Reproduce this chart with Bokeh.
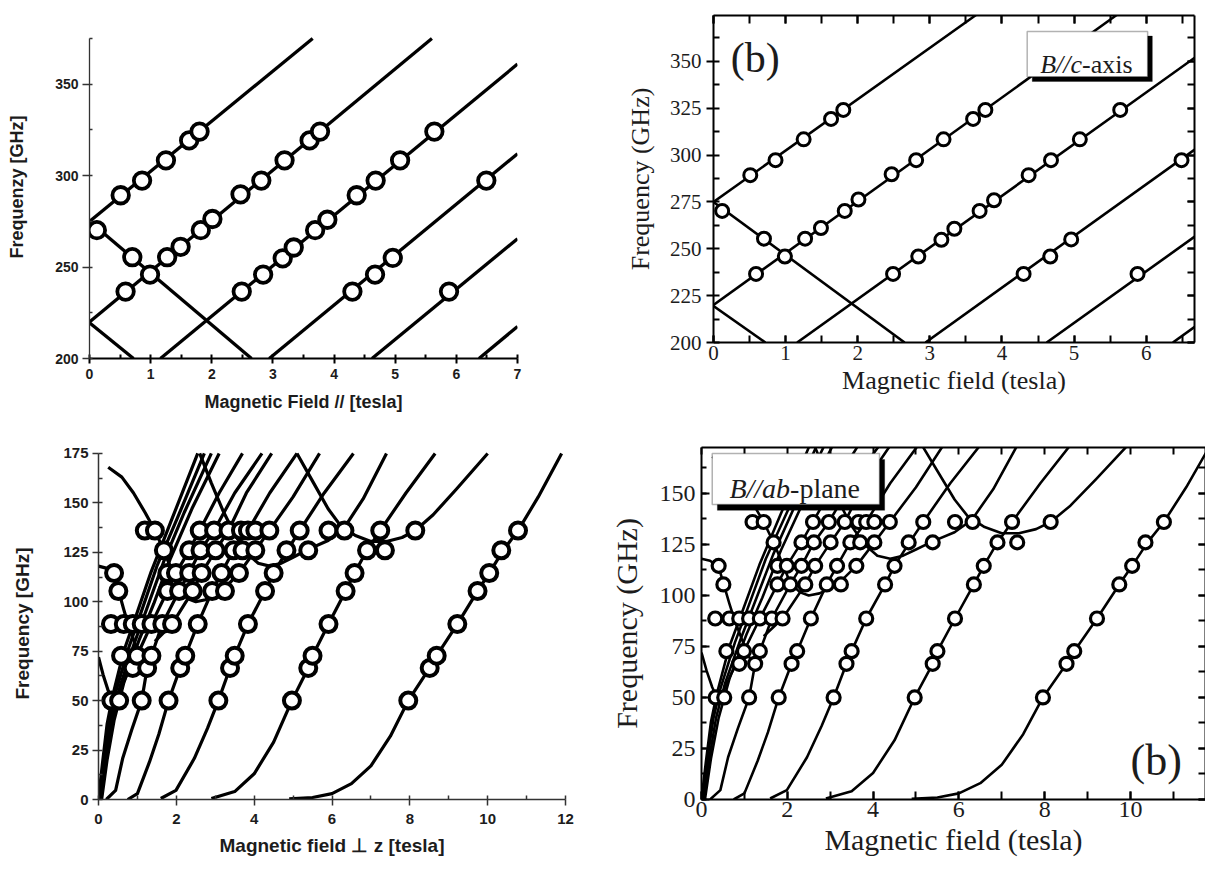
from bokeh.plotting import figure
from bokeh.models import (LinearAxis, SingleIntervalTicker, Range1d, BoxAnnotation,
                          Label, CustomJSTickFormatter)
from bokeh.layouts import column, row
from bokeh.embed import file_html
from bokeh.resources import INLINE

# ---------------- data: upper panels (B // c-axis) ----------------
# ascending resonance lines (start / end points, tesla, GHz)
top_up_x0 = [0.0, 0.0, 1.16, 2.94, 4.62, 6.37]
top_up_y0 = [275.0, 220.0, 200.0, 200.0, 200.0, 200.0]
top_up_x1 = [3.65, 5.60, 7.0, 7.0, 7.0, 7.0]
top_up_y1 = [375.0, 375.0, 361.0, 312.0, 265.5, 217.5]
# descending resonance lines
top_dn_x0 = [0.0, 0.0]
top_dn_y0 = [275.0, 219.5]
top_dn_x1 = [2.65, 0.72]
top_dn_y1 = [200.0, 200.0]
# measured points
top_pts_x = [0.51, 0.86, 1.25, 1.63, 1.80,
             0.12, 0.70, 0.99,
             0.59, 1.27, 1.49, 1.82, 2.01, 2.47, 2.81, 3.19, 3.60, 3.77,
             2.49, 2.84, 3.16, 3.34, 3.69, 3.89, 4.37, 4.68, 5.08, 5.64,
             4.30, 4.67, 4.96, 6.49,
             5.88]
top_pts_y = [289.3, 297.3, 308.4, 319.3, 324.1,
             270.2, 255.4, 245.9,
             236.6, 255.4, 261.1, 270.2, 276.3, 289.8, 297.3, 308.4, 319.3, 324.1,
             236.6, 245.9, 254.8, 260.7, 270.2, 275.9, 289.3, 297.3, 308.4, 324.1,
             236.6, 245.9, 255.0, 297.3,
             236.6]

# ---------------- data: lower panels (B // ab-plane) ----------------
row_freqs = [50.0, 66.5, 72.7, 88.7, 105.4, 114.5, 126.0, 136.0]
fields_50 = [0.33, 0.53, 1.11, 1.80, 3.08, 4.97, 7.96]
fields_66 = [0.88, 1.25, 2.10, 3.38, 5.39, 8.51]
fields_73 = [0.58, 0.99, 1.36, 2.23, 3.50, 5.50, 8.69]
fields_89 = [0.32, 0.65, 0.88, 1.11, 1.36, 1.64, 1.89, 2.55, 3.84, 5.91, 9.22]
fields_105 = [0.51, 1.77, 2.07, 2.42, 2.92, 3.25, 4.28, 6.35, 9.74]
fields_115 = [0.40, 1.77, 1.99, 2.33, 2.65, 3.16, 3.61, 4.50, 6.58, 10.04]
fields_126 = [1.68, 2.33, 2.62, 3.01, 3.47, 3.70, 4.03, 4.83, 5.39, 6.90, 7.36, 10.35]
fields_136 = [1.19, 1.45, 2.60, 2.97, 3.34, 3.66, 3.84, 4.03, 4.39, 5.17, 5.91, 6.32,
              7.24, 8.14, 10.78]
row_fields = [fields_50, fields_66, fields_73, fields_89, fields_105, fields_115,
              fields_126, fields_136]

# calculated resonance branches
c1_x = [4.9, 5.5, 6.0, 6.5, 7.0, 7.5, 7.96, 8.51, 8.69, 9.22, 9.74, 10.04, 10.4, 10.78, 11.3, 11.9]
c1_y = [0.3, 1.0, 3.0, 8.0, 17.0, 32.0, 50.0, 66.5, 72.7, 88.7, 105.4, 114.5, 126.0, 136.0, 153.0, 175.0]
c2_x = [2.9, 3.5, 4.0, 4.5, 4.97, 5.39, 5.50, 5.91, 6.35, 6.58, 6.90, 7.24, 7.9, 8.65]
c2_y = [0.5, 4.0, 13.0, 29.0, 50.0, 66.5, 72.7, 88.7, 105.4, 114.5, 126.0, 136.0, 155.0, 175.0]
c3_x = [1.6, 1.99, 2.46, 2.8, 3.08, 3.38, 3.50, 3.84, 4.28, 4.50, 4.85, 5.17, 5.8, 6.55]
c3_y = [0.5, 4.6, 20.7, 36.0, 50.0, 66.5, 72.7, 88.7, 105.4, 114.5, 126.0, 136.0, 155.0, 175.0]
c4_x = [0.75, 1.0, 1.31, 1.55, 1.80, 2.10, 2.23, 2.55, 2.92, 3.16, 3.47, 3.84, 4.4, 5.1]
c4_y = [0.0, 3.0, 19.0, 33.0, 50.0, 66.5, 72.7, 88.7, 105.4, 114.5, 126.0, 136.0, 155.0, 175.0]
c5_x = [0.2, 0.44, 0.62, 0.85, 1.11, 1.25, 1.36, 1.64, 2.07, 2.33, 2.62, 2.97, 3.5, 4.2]
c5_y = [0.0, 4.6, 20.7, 35.0, 50.0, 66.5, 72.7, 88.7, 105.4, 114.5, 126.0, 136.0, 155.0, 175.0]
k1_x = [0.0, 0.1, 0.22, 0.36, 0.65, 0.95, 1.35, 1.85, 2.55]
k1_y = [0.0, 18.0, 38.0, 52.0, 75.0, 92.0, 115.0, 140.0, 175.0]
k2_x = [0.02, 0.14, 0.28, 0.45, 0.78, 1.1, 1.5, 2.02, 2.72]
k2_y = [0.0, 20.0, 40.0, 55.0, 77.0, 95.0, 118.0, 142.0, 175.0]
k3_x = [0.05, 0.18, 0.34, 0.55, 0.92, 1.25, 1.67, 2.2, 2.9]
k3_y = [0.0, 20.0, 40.0, 57.0, 79.0, 97.0, 120.0, 145.0, 175.0]
k4_x = [0.08, 0.22, 0.4, 0.65, 1.05, 1.42, 1.85, 2.4, 3.1]
k4_y = [0.0, 20.0, 40.0, 59.0, 81.0, 99.0, 122.0, 147.0, 175.0]
k5_x = [0.45, 0.7, 0.99, 1.36, 1.77, 1.99, 2.33, 2.60, 3.1, 3.7]
k5_y = [50.0, 62.0, 72.7, 88.7, 105.4, 114.5, 126.0, 136.0, 155.0, 175.0]
k6_x = [1.45, 1.89, 2.42, 2.65, 3.01, 3.34, 3.8, 4.45]
k6_y = [80.0, 88.7, 105.4, 114.5, 126.0, 136.0, 155.0, 175.0]
u1_x = [0.25, 0.6, 0.9, 1.2, 1.45, 1.68, 1.9, 2.07, 2.3, 2.5, 2.75, 3.0, 3.25, 3.61, 4.03, 4.39, 5.0, 5.68]
u1_y = [168.0, 163.0, 155.0, 145.0, 136.0, 126.0, 115.0, 106.0, 101.5, 100.0, 101.0, 103.5, 107.0, 114.5, 126.0, 136.0, 153.0, 175.0]
u2_x = [2.6, 2.9, 3.2, 3.5, 3.8, 4.1, 4.4, 4.7, 5.0, 5.39, 5.9, 6.3, 6.8, 7.4]
u2_y = [175.0, 160.0, 146.0, 134.0, 125.0, 119.5, 118.0, 119.5, 122.5, 126.5, 131.0, 137.0, 152.0, 175.0]
u3_x = [5.1, 5.5, 5.9, 6.2, 6.6, 7.0, 7.4, 7.8, 8.14, 8.6, 9.2, 10.0]
u3_y = [175.0, 161.0, 147.0, 139.0, 133.5, 130.5, 130.5, 132.5, 136.0, 144.0, 157.0, 175.0]
d2_x = [0.0, 0.2, 0.40, 0.51, 0.65, 0.76, 0.95, 1.15]
d2_y = [118.0, 117.0, 114.0, 106.0, 96.0, 88.7, 78.0, 68.0]
d3_x = [0.0, 0.12, 0.25, 0.36]
d3_y = [72.0, 63.0, 55.0, 50.0]

curves_x = [c1_x, c2_x, c3_x, c4_x, c5_x, k1_x, k2_x, k3_x, k4_x, k5_x, k6_x, u1_x, u2_x, u3_x, d2_x, d3_x]
curves_y = [c1_y, c2_y, c3_y, c4_y, c5_y, k1_y, k2_y, k3_y, k4_y, k5_y, k6_y, u1_y, u2_y, u3_y, d2_y, d3_y]

bot_pts_x = [x for xs in row_fields for x in xs]
bot_pts_y = [f for f, xs in zip(row_freqs, row_fields) for _ in xs]

INK = "#1c1c1c"
SANS = "Liberation Sans"
SERIF = "Liberation Serif"


def base_fig(xr, yr, fw, fh, bl, br, bt, bb):
    p = figure(x_range=Range1d(*xr), y_range=Range1d(*yr),
               frame_width=fw, frame_height=fh,
               min_border_left=bl, min_border_right=br,
               min_border_top=bt, min_border_bottom=bb,
               x_axis_type=None, y_axis_type=None, title=None,
               output_backend="svg", toolbar_location=None)
    p.outline_line_color = None
    p.background_fill_color = "white"
    p.border_fill_color = "white"
    return p


def style_axis(ax, font, bold, lsize, tsize, lw, color,
               tin, tout, min_in, min_out, lstand, tstand):
    ax.axis_line_width = lw
    ax.axis_line_color = color
    ax.major_tick_line_width = lw
    ax.minor_tick_line_width = lw
    ax.major_tick_line_color = color
    ax.minor_tick_line_color = color
    ax.major_tick_in = tin
    ax.major_tick_out = tout
    ax.minor_tick_in = min_in
    ax.minor_tick_out = min_out
    ax.major_label_text_font = font
    ax.major_label_text_font_style = "bold" if bold else "normal"
    ax.major_label_text_font_size = lsize
    ax.major_label_text_color = INK
    ax.major_label_standoff = lstand
    ax.axis_label_text_font = font
    ax.axis_label_text_font_style = "bold" if bold else "normal"
    ax.axis_label_text_font_size = tsize
    ax.axis_label_text_color = INK
    ax.axis_label_standoff = tstand


def blank_axis(interval, minor, tin, lw):
    ax = LinearAxis(ticker=SingleIntervalTicker(interval=interval, num_minor_ticks=minor),
                    formatter=CustomJSTickFormatter(code="return ''"))
    ax.axis_line_width = lw
    ax.axis_line_color = "black"
    ax.major_tick_line_width = lw
    ax.minor_tick_line_width = lw
    ax.major_tick_in = tin
    ax.major_tick_out = 0
    ax.minor_tick_in = tin
    ax.minor_tick_out = 0
    ax.major_label_text_font_size = "0px"
    ax.major_label_standoff = 0
    ax.axis_label = None
    return ax


# ---------------- top-left ----------------
# frame extended upward so its top aligns with the neighbour; axis line bounded at 375
p1 = base_fig((0, 7), (200, 387.6), 428, 343, 89, 83, 15, 57)
ax = LinearAxis(ticker=SingleIntervalTicker(interval=1, num_minor_ticks=2),
                axis_label="Magnetic Field // [tesla]")
style_axis(ax, SANS, True, "14px", "18px", 2, "black", 0, 5, 4, 0, 5, 10)
p1.add_layout(ax, "below")
ay = LinearAxis(ticker=SingleIntervalTicker(interval=50, num_minor_ticks=2),
                axis_label="Frequenzy [GHz]", bounds=(200, 375))
style_axis(ay, SANS, True, "14px", "18px", 1.3, "#333333", 0, 7, 3, 0, 4, 25)
p1.add_layout(ay, "left")
p1.segment(top_up_x0, top_up_y0, top_up_x1, top_up_y1, line_width=3.3, line_color="black")
p1.segment(top_dn_x0, top_dn_y0, top_dn_x1, top_dn_y1, line_width=3.3, line_color="black")
p1.scatter(top_pts_x, top_pts_y, marker="circle", size=16.5, fill_color="white",
           line_color="black", line_width=3.8)

# ---------------- top-right ----------------
p2 = base_fig((0, 6.67), (200, 374.5), 481, 327, 113, 10, 15, 73)
ax = LinearAxis(ticker=SingleIntervalTicker(interval=1, num_minor_ticks=2),
                axis_label="Magnetic field (tesla)")
style_axis(ax, SERIF, False, "21px", "26px", 2, "black", 7, 0, 7, 0, 3, 3)
p2.add_layout(ax, "below")
ay = LinearAxis(ticker=SingleIntervalTicker(interval=25, num_minor_ticks=2),
                axis_label="Frequency (GHz)")
style_axis(ay, SERIF, False, "21px", "26px", 2, "black", 0, 7, 6, 0, 5, 12)
p2.add_layout(ay, "left")
p2.add_layout(blank_axis(1, 2, 8, 2), "above")
p2.add_layout(blank_axis(25, 2, 7, 2), "right")
p2.segment(top_up_x0, top_up_y0, top_up_x1, top_up_y1, line_width=2.6, line_color="black")
p2.segment(top_dn_x0, top_dn_y0, top_dn_x1, top_dn_y1, line_width=2.6, line_color="black")
p2.scatter(top_pts_x, top_pts_y, marker="circle", size=13, fill_color="white",
           line_color="black", line_width=3)
p2.add_layout(BoxAnnotation(left=4.42, right=6.085, bottom=339.3, top=363.5,
                            fill_color="black", fill_alpha=1, line_color="black"))
p2.add_layout(BoxAnnotation(left=4.35, right=6.02, bottom=341.8, top=366.0,
                            fill_color="white", fill_alpha=1, line_color="black",
                            line_width=1.5))
p2.add_layout(Label(x=4.53, y=348.5, text="B//c", text_font=SERIF,
                    text_font_style="italic", text_font_size="26px", text_color=INK,
                    text_baseline="alphabetic", text_align="left"))
p2.add_layout(Label(x=4.53, y=348.5, x_offset=41.9, text="-axis", text_font=SERIF,
                    text_font_size="26px", text_color=INK,
                    text_baseline="alphabetic", text_align="left"))
p2.add_layout(Label(x=0.24, y=352, text="(b)", text_font=SERIF, text_font_size="42px",
                    text_color=INK, text_baseline="middle", text_align="left"))

# ---------------- bottom-left ----------------
p3 = base_fig((0, 12), (0, 178.0), 467, 352, 98, 35, 32, 66)
ax = LinearAxis(ticker=SingleIntervalTicker(interval=2, num_minor_ticks=2),
                axis_label="Magnetic field \u22a5 z [tesla]")
style_axis(ax, SANS, True, "15px", "19px", 1.5, "#333333", 0, 6, 4, 0, 8, 8)
p3.add_layout(ax, "below")
ay = LinearAxis(ticker=SingleIntervalTicker(interval=25, num_minor_ticks=2),
                axis_label="Frequency [GHz]", bounds=(0, 175))
style_axis(ay, SANS, True, "15px", "19px", 1.5, "#333333", 0, 6, 4, 0, 4, 27)
p3.add_layout(ay, "left")
p3.multi_line(curves_x, curves_y, line_width=3.2, line_color="black", line_join="round")
p3.scatter(bot_pts_x, bot_pts_y, marker="circle", size=16, fill_color="white",
           line_color="black", line_width=4)

# ---------------- bottom-right ----------------
p4 = base_fig((0, 11.75), (0, 172.5), 504, 352, 101, 0, 32, 66)
ax = LinearAxis(ticker=SingleIntervalTicker(interval=2, num_minor_ticks=2),
                axis_label="Magnetic field (tesla)")
style_axis(ax, SERIF, False, "24px", "30px", 2, "black", 8, 0, 8, 0, 2, 3)
p4.add_layout(ax, "below")
ay = LinearAxis(ticker=SingleIntervalTicker(interval=25, num_minor_ticks=2),
                axis_label="Frequency (GHz)")
style_axis(ay, SERIF, False, "24px", "30px", 2, "black", 8, 0, 5, 0, 6, 14)
p4.add_layout(ay, "left")
p4.add_layout(blank_axis(1, 0, 7, 2), "above")
p4.add_layout(blank_axis(25, 2, 7, 2), "right")
p4.multi_line(curves_x, curves_y, line_width=2.6, line_color="black", line_join="round")
p4.scatter(bot_pts_x, bot_pts_y, marker="circle", size=13, fill_color="white",
           line_color="black", line_width=3.2)
p4.add_layout(BoxAnnotation(left=0.37, right=4.27, bottom=141.7, top=166.6,
                            fill_color="black", fill_alpha=1, line_color="black"))
p4.add_layout(BoxAnnotation(left=0.25, right=4.15, bottom=144.6, top=169.5,
                            fill_color="white", fill_alpha=1, line_color="black",
                            line_width=1.5))
p4.add_layout(Label(x=0.65, y=152.5, text="B//ab", text_font=SERIF,
                    text_font_style="italic", text_font_size="28px", text_color=INK,
                    text_baseline="alphabetic", text_align="left"))
p4.add_layout(Label(x=0.65, y=152.5, x_offset=60.7, text="-plane", text_font=SERIF,
                    text_font_size="28px", text_color=INK,
                    text_baseline="alphabetic", text_align="left"))
p4.add_layout(Label(x=10.6, y=19.0, text="(b)", text_font=SERIF, text_font_size="44px",
                    text_color=INK, text_baseline="middle", text_align="center"))

layout = column(row(p1, p2), row(p3, p4))
open("out.html", "w").write(file_html(layout, INLINE))
